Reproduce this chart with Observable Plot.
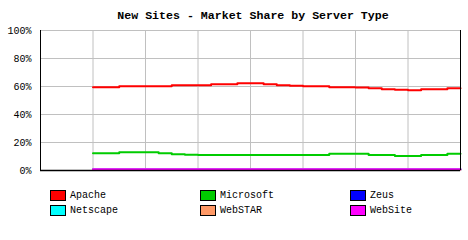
<!DOCTYPE html>
<html>
<head>
<meta charset="utf-8">
<script src="https://cdn.jsdelivr.net/npm/d3@7"></script>
<script src="https://cdn.jsdelivr.net/npm/@observablehq/plot@0.6"></script>
<style>
  html, body { margin: 0; padding: 0; background: #fff; }
  #wrap { width: 468px; height: 240px; position: relative; overflow: hidden; font-family: "Liberation Mono", "DejaVu Sans Mono", monospace; }
  #title { height: 24px; box-sizing: border-box; padding-left: 38px; padding-top: 9px; text-align: center; font: bold 11.6px "Liberation Mono", "DejaVu Sans Mono", monospace; line-height: 14px; color: #000; }
  #legend { position: relative; height: 56px; font-size: 10px; color: #000; }
  .item { position: absolute; height: 11px; display: flex; align-items: center; }
  .sw { width: 14px; height: 9px; border: 1px solid #000; margin-right: 4px; }
  svg { display: block; }
</style>
</head>
<body>
<div id="wrap">
  <div id="title">New Sites - Market Share by Server Type</div>
  <div id="chart"></div>
  <div id="legend"></div>
</div>
<script>
// monthly index (survey months); data start at month 4
const months = d3.range(4, 33);
const apache    = [59.5,59.5,60.2,60.2,60.2,60.2,60.9,60.9,60.9,61.6,61.6,62.4,62.4,61.6,60.9,60.6,60.2,60.2,59.5,59.5,59.2,58.8,58.1,57.6,57.4,58.1,58.1,58.8,58.8];
const microsoft = [12.4,12.4,13.1,13.1,13.1,12.4,11.6,11.2,11.1,11.1,11.1,11.1,11.1,11.1,11.1,11.1,11.1,11.1,11.9,11.9,11.9,11.1,11.1,10.4,10.4,11.1,11.1,11.9,11.9];
const zeus      = [0.7,0.7,0.7,0.7,0.7,0.7,0.7,0.7,0.7,0.7,0.7,0.7,0.7,0.7,0.7,0.7,0.7,0.7,0.7,0.7,0.7,0.7,0.7,0.7,0.7,0.7,0.7,0.7,0.7];
const netscape  = [0.8,0.8,0.8,0.8,0.8,0.8,0.8,0.8,0.8,0.8,0.8,0.8,0.8,0.8,0.8,0.8,0.8,0.8,0.8,0.8,0.8,0.8,0.8,0.8,0.8,0.8,0.8,0.8,0.8];
const webstar   = [0.6,0.6,0.6,0.6,0.6,0.6,0.6,0.6,0.6,0.6,0.6,0.6,0.6,0.6,0.6,0.6,0.6,0.6,0.6,0.6,0.6,0.6,0.6,0.6,0.6,0.6,0.6,0.6,0.6];
const website   = [0.9,0.9,0.9,0.9,0.9,0.9,0.9,0.9,0.9,0.9,0.9,0.9,0.9,0.9,0.9,0.9,0.9,0.9,0.9,0.9,0.9,0.9,0.9,0.9,0.9,0.9,0.9,0.9,0.9];
const seriesNames = ["Apache","Microsoft","Zeus","Netscape","WebSTAR","WebSite"];
const seriesColors = ["#ff0000","#00cc00","#0000ff","#00ffff","#ff9966","#ff00ff"];
const yTicks = [0,20,40,60,80,100];
const xGrid = [4,8,12,16,20,24,28];

const allValues = [apache, microsoft, zeus, netscape, webstar, website];
const rows = [];
allValues.forEach((vals, s) => vals.forEach((v, i) => rows.push({month: months[i], share: v, server: seriesNames[s]})));
const drawOrder = ["Apache","Microsoft","Zeus","Netscape","WebSTAR","WebSite"];

const chart = Plot.plot({
  width: 468,
  height: 160,
  marginLeft: 40,
  marginRight: 8,
  marginTop: 6,
  marginBottom: 14,
  style: {fontFamily: "'Liberation Mono', 'DejaVu Sans Mono', monospace", fontSize: "10px", color: "#000", background: "#fff"},
  x: {domain: [0, 32], axis: null},
  y: {domain: [0, 100], ticks: yTicks, tickFormat: d => d + "%", tickSize: 0, tickPadding: 9, label: null},
  color: {domain: seriesNames, range: seriesColors},
  marks: [
    Plot.ruleX(xGrid, {stroke: "#c0c0c0", strokeWidth: 1}),
    Plot.ruleY(yTicks.filter(d => d > 0), {stroke: "#c0c0c0", strokeWidth: 1}),
    ...drawOrder.map(name => Plot.line(rows.filter(r => r.server === name), {
      x: "month", y: "share", stroke: seriesColors[seriesNames.indexOf(name)], strokeWidth: 2, curve: "step-after"
    })),
    Plot.ruleX([0, 32], {stroke: "#000", strokeWidth: 1}),
    Plot.ruleY([0], {stroke: "#000", strokeWidth: 1.5})
  ]
});
document.getElementById("chart").appendChild(chart);

// legend below the chart
const legendCols = [50, 200, 350];
const legendRows = [6, 21];
const legend = d3.select("#legend");
seriesNames.forEach((name, i) => {
  const item = legend.append("div").attr("class", "item")
    .style("left", legendCols[i % 3] + "px")
    .style("top", legendRows[Math.floor(i / 3)] + "px");
  item.append("div").attr("class", "sw").style("background", seriesColors[i]);
  item.append("span").text(name);
});
</script>
</body>
</html>
